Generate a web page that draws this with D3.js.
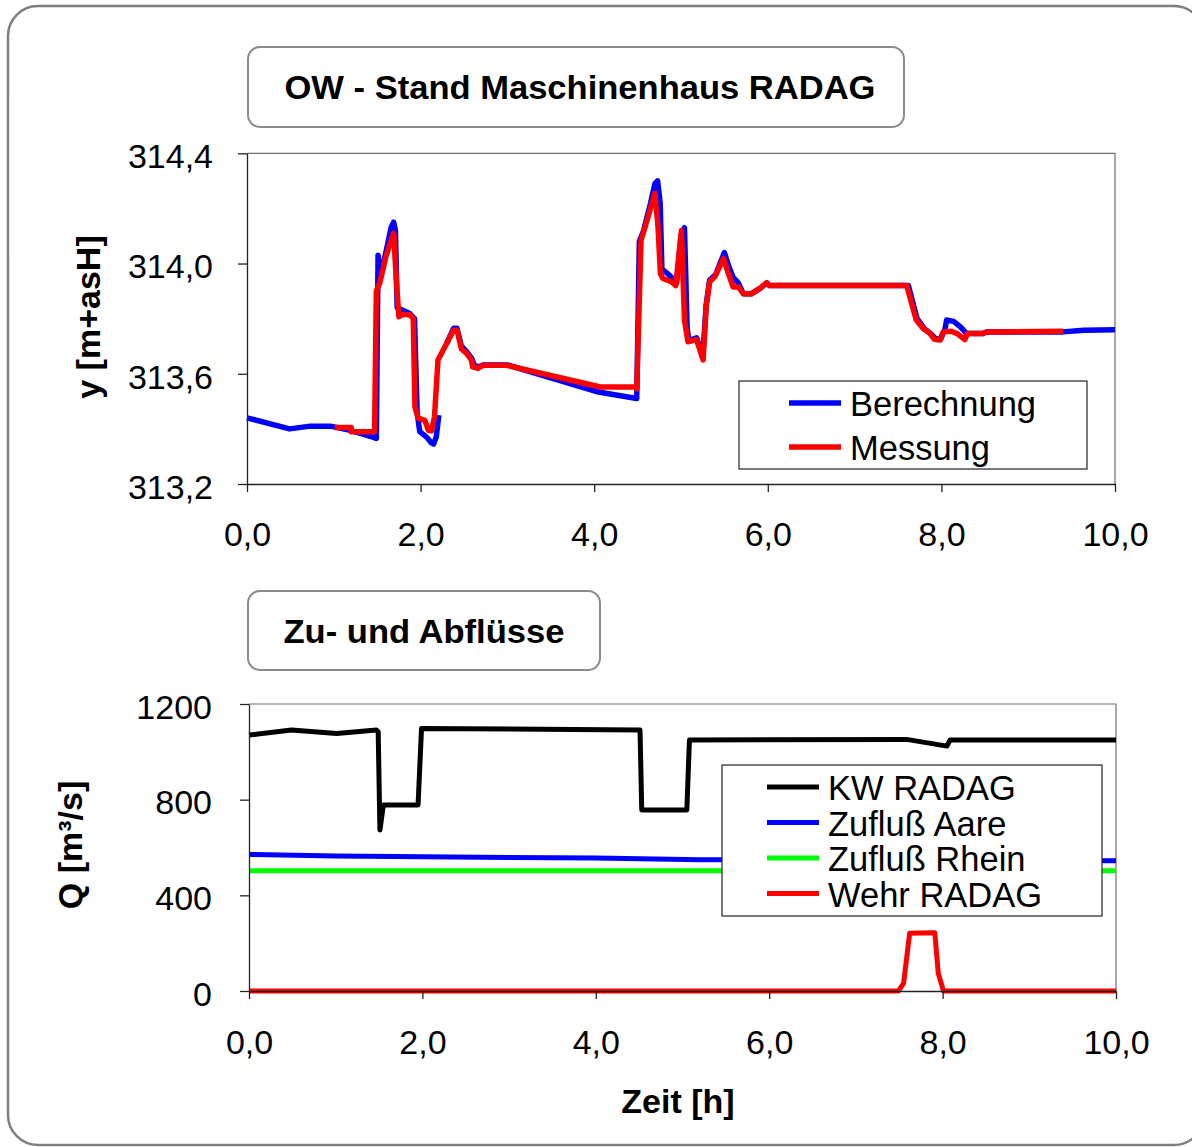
<!DOCTYPE html>
<html>
<head>
<meta charset="utf-8">
<script src="https://cdn.jsdelivr.net/npm/d3@7"></script>
<style>
  body { margin: 0; background: #fff; }
  text { font-family: Arial, "Liberation Sans", sans-serif; }
</style>
</head>
<body>
<svg id="chart" width="1192" height="1147"></svg>
<script>
// top chart: water level at the machine house (time [h], level [m+asH])
var berechnung = [
  [0,313.44],[0.49,313.40],[0.73,313.41],[0.96,313.41],[1.19,313.395],[1.45,313.37],[1.49,313.365],
  [1.51,314.03],[1.53,313.95],[1.60,314.04],[1.66,314.13],[1.69,314.15],[1.71,314.12],[1.73,313.84],
  [1.80,313.83],[1.87,313.82],[1.93,313.80],[1.96,313.46],[1.99,313.39],[2.07,313.37],[2.12,313.35],
  [2.15,313.345],[2.18,313.37],[2.21,313.45],null,
  [2.3,313.71],[2.38,313.765],[2.42,313.765],[2.47,313.70],[2.53,313.68],[2.59,313.655],[2.62,313.63],
  [2.67,313.625],[2.72,313.632],[3.0,313.632],[4.03,313.535],[4.49,313.51],[4.52,314.08],[4.57,314.12],
  [4.65,314.22],[4.70,314.29],[4.73,314.30],[4.76,314.22],[4.78,313.98],[4.86,313.96],[4.95,313.93],
  [5.0,314.10],[5.04,314.13],[5.07,313.77],[5.09,313.72],[5.18,313.73],[5.25,313.66],[5.29,313.85],
  [5.33,313.94],[5.40,313.96],[5.50,314.04],[5.55,313.99],[5.60,313.95],[5.66,313.93],[5.72,313.89],
  [5.81,313.89],[5.91,313.91],[5.99,313.93],[6.02,313.92],[7.62,313.92],[7.72,313.80],[7.80,313.765],
  [7.88,313.745],[7.93,313.728],[7.99,313.725],[8.04,313.76],[8.06,313.795],[8.14,313.79],[8.22,313.77],
  [8.29,313.746],[8.48,313.746],[8.52,313.752],[9.4,313.752],[9.64,313.758],[10,313.76]
];
var messung = [
  [1.01,313.405],[1.2,313.405],[1.2,313.39],[1.47,313.39],[1.49,313.90],[1.53,313.93],[1.60,314.025],
  [1.69,314.11],[1.72,313.94],[1.75,313.807],[1.80,313.816],[1.88,313.813],[1.915,313.80],[1.935,313.48],
  [1.97,313.44],[2.05,313.43],[2.09,313.395],[2.125,313.393],[2.16,313.443],[2.20,313.65],[2.38,313.758],
  [2.42,313.758],[2.47,313.69],[2.53,313.674],[2.585,313.65],[2.60,313.625],[2.66,313.62],[2.72,313.631],
  [2.99,313.631],[4.07,313.552],[4.47,313.552],[4.49,313.545],[4.54,314.085],[4.565,314.11],[4.70,314.255],
  [4.735,314.134],[4.763,313.964],[4.79,313.946],[4.89,313.934],[4.94,313.92],[5.005,314.12],[5.04,313.795],
  [5.08,313.716],[5.18,313.724],[5.255,313.65],[5.29,313.843],[5.33,313.934],[5.39,313.952],[5.49,314.019],
  [5.545,313.964],[5.60,313.915],[5.66,313.915],[5.72,313.89],[5.81,313.89],[5.91,313.91],[5.985,313.93],
  [6.02,313.92],[7.60,313.92],[7.71,313.795],[7.79,313.764],[7.87,313.746],[7.92,313.725],[7.985,313.722],
  [8.02,313.752],[8.115,313.754],[8.19,313.744],[8.27,313.724],[8.30,313.746],[8.48,313.746],[8.52,313.752],
  [9.40,313.754]
];

// bottom chart: discharges (time [h], Q [m3/s])
var kwRadag = [
  [0,1070],[0.49,1091],[1.01,1077],[1.47,1091],[1.49,1084],[1.51,673],[1.55,778],[1.95,778],[1.99,1098],
  [4.51,1091],[4.53,757],[5.05,757],[5.08,1049],[7.585,1052],[8.05,1024],[8.085,1049],[10,1049]
];
var zuflussAare = [[0,571],[1,564],[4,556],[5.2,549],[10,545]];
var zuflussRhein = [[0,503],[10,503]];
var wehrRadag = [[0,0],[7.49,0],[7.55,32],[7.62,241],[7.91,244],[7.95,74],[8.01,0],[10,0]];

var timeTicks = [0, 2, 4, 6, 8, 10];
var levelTicks = [313.2, 313.6, 314.0, 314.4];
var flowTicks = [0, 400, 800, 1200];

var svg = d3.select('#chart');
var de = d3.formatLocale({decimal: ',', thousands: '', grouping: [3], currency: ['', '']});
var fmt1 = de.format('.1f');

// outer rounded frame
svg.append('rect')
  .attr('x', 8).attr('y', 6).attr('width', 1196).attr('height', 1139).attr('rx', 30)
  .attr('fill', '#fff').attr('stroke', '#7f7f7f').attr('stroke-width', 2.5);

function titleBox(x, y, w, h, label, len, cx) {
  svg.append('rect').attr('x', x).attr('y', y).attr('width', w).attr('height', h).attr('rx', 12)
    .attr('fill', '#fff').attr('stroke', '#8c8c8c').attr('stroke-width', 2);
  svg.append('text').attr('x', cx).attr('y', y + h / 2 + 12)
    .attr('text-anchor', 'middle').attr('font-weight', 'bold').attr('font-size', 33)
    .attr('textLength', len).attr('lengthAdjust', 'spacingAndGlyphs')
    .text(label);
}

function panel(opt) {
  var x = d3.scaleLinear().domain([0, 10]).range(opt.xr);
  var y = d3.scaleLinear().domain(opt.yd).range(opt.yr);
  var g = svg.append('g');

  // plot frame (top/right)
  g.append('path')
    .attr('d', 'M' + x(0) + ',' + y(opt.yd[1]) + 'H' + x(10) + 'V' + y(opt.yd[0]))
    .attr('fill', 'none').attr('stroke', '#6f6f6f').attr('stroke-width', 1.2);

  var line = d3.line().defined(function(d){ return d != null; })
    .x(function(d){ return x(d[0]); }).y(function(d){ return y(d[1]); });
  opt.series.forEach(function(s){
    g.append('path').datum(s.data).attr('d', line)
      .attr('fill', 'none').attr('stroke', s.color).attr('stroke-width', s.w)
      .attr('stroke-linejoin', 'round').attr('stroke-linecap', 'butt');
  });

  var ax = g.append('g').attr('transform', 'translate(0,' + y(opt.yd[0]) + ')')
    .call(d3.axisBottom(x).tickValues(timeTicks).tickFormat(fmt1).tickSize(8).tickSizeOuter(0).tickPadding(opt.xpad));
  var ay = g.append('g').attr('transform', 'translate(' + x(0) + ',0)')
    .call(d3.axisLeft(y).tickValues(opt.yticks).tickFormat(opt.yfmt).tickSize(9).tickSizeOuter(0).tickPadding(opt.ypad));
  [ax, ay].forEach(function(a){
    a.select('.domain').attr('stroke', '#222').attr('stroke-width', 1.3);
    a.selectAll('.tick line').attr('stroke', '#222').attr('stroke-width', 1.3);
    a.selectAll('text').attr('font-size', 34).attr('fill', '#000')
      .style('font-family', 'Arial, "Liberation Sans", sans-serif');
  });
  ay.selectAll('text').attr('dy', '0.42em');

  // legend
  var L = opt.legend;
  g.append('rect').attr('x', L.x).attr('y', L.y).attr('width', L.w).attr('height', L.h)
    .attr('fill', '#fff').attr('stroke', '#222').attr('stroke-width', 1.2);
  opt.series.forEach(function(s, i){
    var cy = L.y0 + i * L.step;
    g.append('line').attr('x1', L.x + L.lx).attr('x2', L.x + L.lx + 52)
      .attr('y1', cy).attr('y2', cy).attr('stroke', s.color).attr('stroke-width', s.w);
    g.append('text').attr('x', L.x + L.lx + 61).attr('y', cy + 13)
      .attr('font-size', 34.5).text(s.name);
  });
}

titleBox(248, 47, 656, 80, 'OW - Stand Maschinenhaus RADAG', 591, 580);
titleBox(248, 591, 352, 79, 'Zu- und Abflüsse', 281, 424);

panel({
  xr: [247, 1115], yd: [313.2, 314.4], yr: [484, 153.3],
  yticks: levelTicks, yfmt: fmt1, xpad: 30, ypad: 25,
  series: [
    {name: 'Berechnung', data: berechnung, color: '#0000ff', w: 5.5},
    {name: 'Messung', data: messung, color: '#ff0000', w: 5.5}
  ],
  legend: {x: 739, y: 381, w: 348, h: 88, lx: 50, y0: 403, step: 44}
});

panel({
  xr: [249, 1116], yd: [0, 1200], yr: [991, 704],
  yticks: flowTicks, yfmt: de.format('d'), xpad: 31, ypad: 28,
  series: [
    {name: 'KW RADAG', data: kwRadag, color: '#000000', w: 5},
    {name: 'Zufluß Aare', data: zuflussAare, color: '#0000ff', w: 5},
    {name: 'Zufluß Rhein', data: zuflussRhein, color: '#00ff00', w: 5},
    {name: 'Wehr RADAG', data: wehrRadag, color: '#ff0000', w: 5}
  ],
  legend: {x: 722, y: 765, w: 380, h: 151, lx: 45, y0: 787, step: 35.5}
});

// axis titles
svg.append('text').attr('transform', 'translate(100,317) rotate(-90)')
  .attr('text-anchor', 'middle').attr('font-weight', 'bold').attr('font-size', 34).text('y [m+asH]');
svg.append('text').attr('transform', 'translate(82,845) rotate(-90)')
  .attr('text-anchor', 'middle').attr('font-weight', 'bold').attr('font-size', 34).text('Q [m³/s]');
svg.append('text').attr('x', 678).attr('y', 1113)
  .attr('text-anchor', 'middle').attr('font-weight', 'bold').attr('font-size', 34).text('Zeit [h]');
</script>
</body>
</html>
